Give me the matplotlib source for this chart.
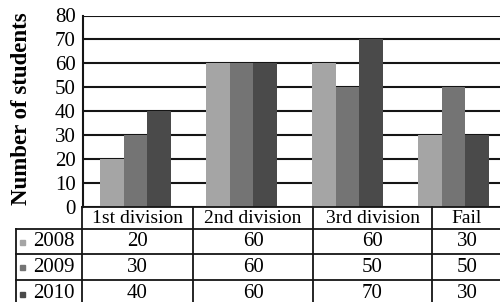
import numpy as np
import matplotlib.pyplot as plt
from matplotlib.lines import Line2D

categories = ['1st division', '2nd division', '3rd division', 'Fail']
years = ['2008', '2009', '2010']
v2008 = [20, 60, 60, 30]
v2009 = [30, 60, 50, 50]
v2010 = [40, 60, 70, 30]
colors = ['#a5a5a5', '#747474', '#4a4a4a']

plt.rcParams['font.family'] = ['Liberation Serif', 'DejaVu Serif']

W, H = 500, 302
fig = plt.figure(figsize=(W / 100, H / 100), dpi=100)

def fx(px):
    return px / W

def fy(py):
    return 1 - py / H

# axes: x from 82.6 to 506.6 px, y from 15.5 (80) to 206.5 (0)
ax = fig.add_axes([fx(82.6), fy(206.5), fx(424), (206.5 - 15.5) / H])
x = np.arange(len(categories))
bw = 0.223
for i, vals in enumerate([v2008, v2009, v2010]):
    ax.bar(x + (i - 1) * bw, vals, width=bw, color=colors[i], zorder=3)

ax.set_xlim(-0.5, 3.5)
ax.set_ylim(0, 80)
ax.set_yticks(range(0, 81, 10))
ax.set_yticklabels([str(t) for t in range(0, 81, 10)], fontsize=15)
ax.tick_params(axis='y', length=0, pad=5)
ax.set_xticks([])
ax.grid(axis='y', color='#151515', linewidth=1.5, zorder=1)
for s in ['top', 'right', 'bottom']:
    ax.spines[s].set_visible(False)
ax.spines['left'].set_linewidth(1.5)
ax.spines['left'].set_color('#151515')

fig.text(fx(22), fy(205), 'Number of students', rotation=90, ha='center',
         va='bottom', fontsize=16.5, fontweight='bold')

# data table below the chart
col_x = [82, 193, 313, 432, 502]
row_y = [207, 228.5, 253.5, 280, 306]
lw = 1.3

def hline(y, x0, x1):
    fig.add_artist(Line2D([fx(x0), fx(x1)], [fy(y), fy(y)], color='#151515', lw=lw))

def vline(x0, y0, y1):
    fig.add_artist(Line2D([fx(x0), fx(x0)], [fy(y0), fy(y1)], color='#151515', lw=lw))

hline(row_y[0], col_x[0], col_x[-1])
for y in row_y[1:4]:
    hline(y, 16, col_x[-1])
for cx in col_x[:-1]:
    vline(cx, row_y[0], row_y[-1])
vline(16, row_y[1], row_y[-1])

for j, c in enumerate(categories):
    fig.text(fx((col_x[j] + col_x[j + 1]) / 2), fy((row_y[0] + row_y[1]) / 2 + 1), c,
             ha='center', va='center', fontsize=14)

for i, (yr, vals) in enumerate(zip(years, [v2008, v2009, v2010])):
    yc = (row_y[i + 1] + row_y[i + 2]) / 2 + 1
    fig.patches.append(plt.Rectangle((fx(20), fy(yc + 2.5)), fx(5), 5 / H,
                                     transform=fig.transFigure, color=colors[i]))
    fig.text(fx(54), fy(yc), yr, ha='center', va='center', fontsize=15)
    for j, v in enumerate(vals):
        fig.text(fx((col_x[j] + col_x[j + 1]) / 2), fy(yc), str(v),
                 ha='center', va='center', fontsize=15)

fig.savefig('out.png', dpi=100)
